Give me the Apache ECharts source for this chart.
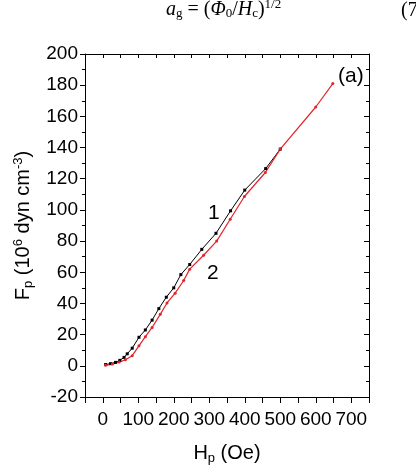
<!DOCTYPE html>
<html>
<head>
<meta charset="utf-8">
<script src="https://cdn.jsdelivr.net/npm/echarts@6/dist/echarts.min.js"></script>
<style>
  html, body { margin: 0; padding: 0; background: #fff; }
  #chart { width: 416px; height: 470px; }
</style>
</head>
<body>
<div id="chart"></div>
<script>
// curve 1 (black) : H_p (Oe), F_p (10^6 dyn cm^-3)
var hp1 = [8, 22, 36, 48, 60, 69, 83, 102, 120, 139, 158, 179, 200, 220, 245, 279, 319, 360, 400, 459, 500]
var fp1 = [0.8, 1.4, 2.2, 3.5, 5.4, 7.7, 11.3, 18.3, 23, 29.3, 36.7, 44, 50, 58.5, 65, 74.7, 85, 99.4, 112.7, 126.5, 139]
// curve 2 (red)
var hp2 = [8, 27, 46, 64, 83, 102, 120, 139, 162, 181, 204, 228, 245, 284, 321, 359, 399, 458, 500, 600, 648]
var fp2 = [0.3, 1.1, 2.4, 3.9, 6.5, 12.8, 18.7, 24.6, 33, 40.3, 46.6, 54.7, 62, 70.9, 80, 94, 108.6, 124, 139, 166, 181]
var xTicks = [0, 100, 200, 300, 400, 500, 600, 700]

var font = 'Liberation Sans, Arial, sans-serif'
var pairs = (xs, ys) => xs.map((x, i) => [x, ys[i]])

var mychart = echarts.init(document.getElementById('chart'))

var xBase = {
  type: 'value', min: -50, max: 750, interval: 50,
  splitLine: { show: false },
  axisLine: { onZero: false, lineStyle: { color: '#000', width: 1 } }
}
var yBase = {
  type: 'value', min: -20, max: 200, interval: 20,
  splitLine: { show: false },
  axisLine: { onZero: false, lineStyle: { color: '#000', width: 1 } },
  minorTick: { show: true, splitNumber: 2, length: 3, lineStyle: { color: '#000' } }
}

var option = {
  animation: false,
  grid: { left: 85, right: 47, top: 54, bottom: 69 },
  xAxis: [
    Object.assign({}, xBase, {
      position: 'bottom',
      axisTick: { inside: false, length: 6, lineStyle: { color: '#000' } },
      axisLabel: {
        color: '#000', fontFamily: font, fontSize: 19, margin: 13,
        formatter: v => xTicks.indexOf(v) >= 0 ? String(v) : ''
      },
      name: '{a|H}{s|p}{a| (Oe)}',
      nameLocation: 'middle', nameGap: 45,
      nameTextStyle: {
        rich: {
          a: { fontFamily: font, fontSize: 20, color: '#000' },
          s: { fontFamily: font, fontSize: 13, color: '#000', verticalAlign: 'bottom', padding: [10, 0, 0, 0] }
        }
      }
    }),
    Object.assign({}, xBase, {
      position: 'top',
      axisTick: { inside: true, length: 4, lineStyle: { color: '#000' } },
      axisLabel: { show: false }
    })
  ],
  yAxis: [
    Object.assign({}, yBase, {
      position: 'left',
      axisTick: { inside: false, length: 5, lineStyle: { color: '#000' } },
      axisLabel: { color: '#000', fontFamily: font, fontSize: 19, margin: 7 },
      name: '{a|F}{s|p}{a| (10}{u|6}{a| dyn cm}{u|-3}{a|)}',
      nameLocation: 'middle', nameGap: 42,
      nameTextStyle: {
        rich: {
          a: { fontFamily: font, fontSize: 20, color: '#000' },
          s: { fontFamily: font, fontSize: 13, color: '#000', padding: [10, 0, 0, 0] },
          u: { fontFamily: font, fontSize: 13, color: '#000', padding: [0, 0, 10, 0] }
        }
      }
    }),
    Object.assign({}, yBase, {
      position: 'right',
      axisTick: { inside: true, length: 5, lineStyle: { color: '#000' } },
      minorTick: { show: true, splitNumber: 2, length: 3, lineStyle: { color: '#000' } },
      axisLabel: { show: false }
    })
  ],
  series: [
    {
      name: '1', type: 'line', xAxisIndex: 0, yAxisIndex: 0,
      data: pairs(hp1, fp1),
      symbol: 'rect', symbolSize: 3, showSymbol: true,
      lineStyle: { color: '#000', width: 1 },
      itemStyle: { color: '#000' }
    },
    {
      name: '2', type: 'line', xAxisIndex: 0, yAxisIndex: 0,
      data: pairs(hp2, fp2),
      symbol: 'circle', symbolSize: 3, showSymbol: true,
      lineStyle: { color: '#e3242b', width: 1.2 },
      itemStyle: { color: '#e3242b' }
    }
  ],
  graphic: [
    { type: 'text', left: 208, top: 203, style: { text: '1', font: '21px ' + font, fill: '#000' } },
    { type: 'text', left: 207, top: 263, style: { text: '2', font: '21px ' + font, fill: '#000' } },
    { type: 'text', left: 338, top: 66, style: { text: '(a)', font: '21px ' + font, fill: '#000' } },
    {
      type: 'text', left: 166, top: -2,
      style: {
        text: '{i|a}{s|g}{r| = (}{i|Φ}{s|0}{r|/}{i|H}{s|c}{r|)}{u|1/2}',
        rich: {
          i: { fontFamily: 'Liberation Serif', fontStyle: 'italic', fontSize: 20, fill: '#000' },
          r: { fontFamily: 'Liberation Serif', fontSize: 20, fill: '#000' },
          s: { fontFamily: 'Liberation Serif', fontSize: 13, fill: '#000', padding: [9, 0, 0, 0] },
          u: { fontFamily: 'Liberation Serif', fontSize: 13, fill: '#000', padding: [0, 0, 10, 0] }
        }
      }
    },
    { type: 'text', left: 401, top: 1, style: { text: '(7', font: '20px Liberation Serif', fill: '#000' } }
  ]
}
mychart.setOption(option)
</script>
</body>
</html>
